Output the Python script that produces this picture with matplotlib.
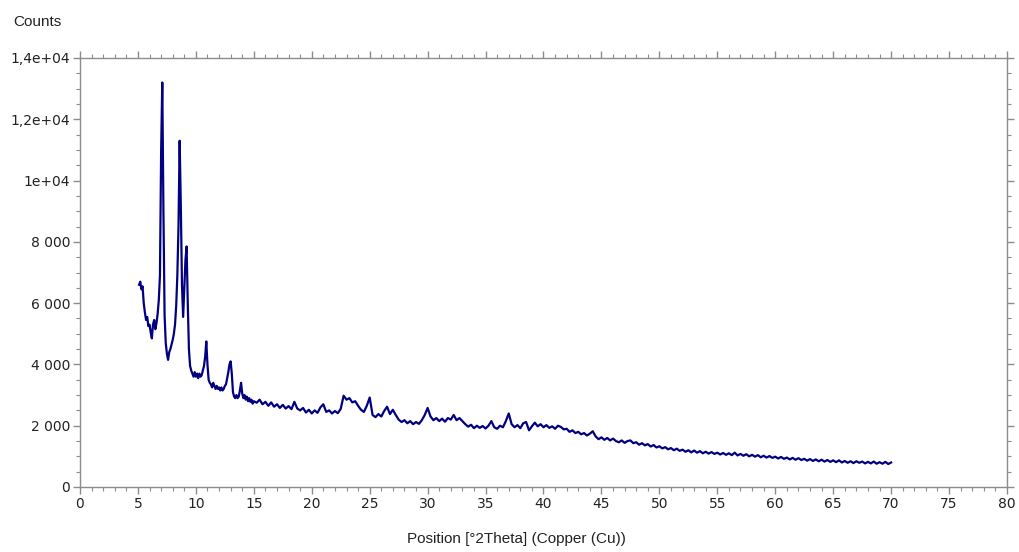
import numpy as np
import matplotlib
matplotlib.use("Agg")
import matplotlib.pyplot as plt
from matplotlib.ticker import MultipleLocator, FixedLocator

# ---- data read from the reference pattern ----
# segment A: 5.1 .. 15.0 deg 2theta, step 0.1
theta_a_start, theta_a_step = 5.1, 0.1
counts_a = [
    6600, 6700, 6450, 6550, 6000, 5700, 5450, 5550, 5250, 5300,
    5050, 4850, 5300, 5450, 5150, 5350, 5650, 6100, 6900, 10900,
    13200, 9000, 5600, 4700, 4350, 4150, 4400, 4500, 4650, 4800,
    5000, 5300, 5900, 6900, 8500, 11300, 9200, 6600, 5550, 6500,
    7400, 7850, 6000, 4500, 3950, 3800, 3700, 3600, 3750, 3600,
    3700, 3550, 3700, 3600, 3650, 3800, 3950, 4250, 4750, 4000,
    3500, 3400, 3350, 3250, 3400, 3300, 3200, 3300, 3200, 3250,
    3150, 3250, 3150, 3200, 3300, 3350, 3550, 3750, 4000, 4100,
    3700, 3100, 2950, 2900, 3000, 2900, 2950, 3150, 3400, 3050,
    2900, 3000, 2850, 2950, 2800, 2900, 2780, 2850, 2720, 2800,
]
# segment B: 15.25 .. 70.0 deg 2theta, step 0.25
theta_b_start, theta_b_step = 15.25, 0.25
counts_b = [
    2750, 2850, 2700, 2780,
    2650, 2760, 2620, 2700,
    2580, 2680, 2560, 2640,
    2540, 2780, 2560, 2500,
    2580, 2430, 2520, 2400,
    2500, 2420, 2600, 2700,
    2450, 2500, 2400, 2480,
    2410, 2550, 2980, 2850,
    2900, 2760, 2800, 2650,
    2520, 2450, 2650, 2920,
    2350, 2280, 2380, 2300,
    2480, 2620, 2380, 2520,
    2350, 2200, 2120, 2180,
    2080, 2150, 2050, 2120,
    2060, 2180, 2350, 2580,
    2300, 2180, 2250, 2150,
    2230, 2130, 2250, 2200,
    2350, 2180, 2250, 2150,
    2050, 1970, 2030, 1920,
    2000, 1930, 1990, 1910,
    2000, 2150, 1950, 1900,
    2000, 1950, 2150, 2400,
    2050, 1950, 2020, 1920,
    2080, 2120, 1850, 1980,
    2100, 1980, 2050, 1950,
    2020, 1930, 1980, 1900,
    2000, 1960, 1880, 1900,
    1800, 1850, 1760, 1800,
    1720, 1760, 1680, 1740,
    1820, 1650, 1560, 1620,
    1540, 1600, 1520, 1580,
    1500, 1460, 1520, 1440,
    1500, 1520, 1430, 1460,
    1380, 1430, 1360, 1400,
    1320, 1370, 1290, 1330,
    1260, 1300, 1230, 1270,
    1200, 1250, 1180, 1220,
    1150, 1200, 1130, 1190,
    1120, 1170, 1100, 1150,
    1090, 1140, 1080, 1120,
    1060, 1110, 1050, 1100,
    1040, 1120, 1030, 1080,
    1020, 1070, 1000, 1050,
    990, 1040, 970, 1020,
    960, 1010, 950, 990,
    930, 980, 920, 960,
    900, 950, 890, 940,
    880, 920, 860, 910,
    850, 900, 840, 890,
    830, 880, 820, 870,
    810, 870, 800, 850,
    790, 840, 780, 840,
    790, 830, 770, 820,
    770, 830, 760, 810,
    760, 820, 750, 800,
]
y_tick_values = [0, 2000, 4000, 6000, 8000, 10000, 12000, 14000]
y_tick_labels = ["0", "2 000", "4 000", "6 000", "8 000", "1e+04", "1,2e+04", "1,4e+04"]
x_tick_values = list(range(0, 81, 5))

theta_a = theta_a_start + theta_a_step * np.arange(len(counts_a))
theta_b = theta_b_start + theta_b_step * np.arange(len(counts_b))
theta = np.concatenate([theta_a, theta_b])
counts = np.array(counts_a + counts_b, dtype=float)

# ---- figure ----
fig = plt.figure(figsize=(10.2, 5.52), dpi=100)
ax = fig.add_axes([80 / 1020, 1 - 487 / 552, (1007 - 80) / 1020, (487 - 58) / 552])

ax.plot(theta, counts, color="#000080", lw=1.6, solid_joinstyle="round")

ax.set_xlim(0, 80)
ax.set_ylim(0, 14000)
ax.xaxis.set_major_locator(FixedLocator(x_tick_values))
ax.xaxis.set_minor_locator(MultipleLocator(1))
ax.yaxis.set_major_locator(FixedLocator(y_tick_values))
ax.yaxis.set_minor_locator(MultipleLocator(500))
ax.set_yticklabels(y_tick_labels)
ax.set_xticklabels([str(v) for v in x_tick_values])

for s in ax.spines.values():
    s.set_color("#8c8c8c")
    s.set_linewidth(1.0)
ax.tick_params(which="both", direction="out", colors="#8c8c8c",
               top=True, right=True, labelcolor="#222222", labelsize=10)
ax.tick_params(which="major", length=5, width=1.0, pad=2)
ax.tick_params(which="minor", length=3, width=0.8)
for lab in ax.get_xticklabels() + ax.get_yticklabels():
    lab.set_family("DejaVu Sans")

fig.text(13 / 1020, 1 - 22 / 552, "Counts", ha="left", va="center",
         fontsize=11, family="Liberation Sans", color="#222222")
fig.text(516 / 1020, 1 - 539 / 552, "Position [°2Theta] (Copper (Cu))",
         ha="center", va="center", fontsize=11, family="Liberation Sans",
         color="#222222")

fig.savefig("out.png", dpi=100, facecolor="white")
